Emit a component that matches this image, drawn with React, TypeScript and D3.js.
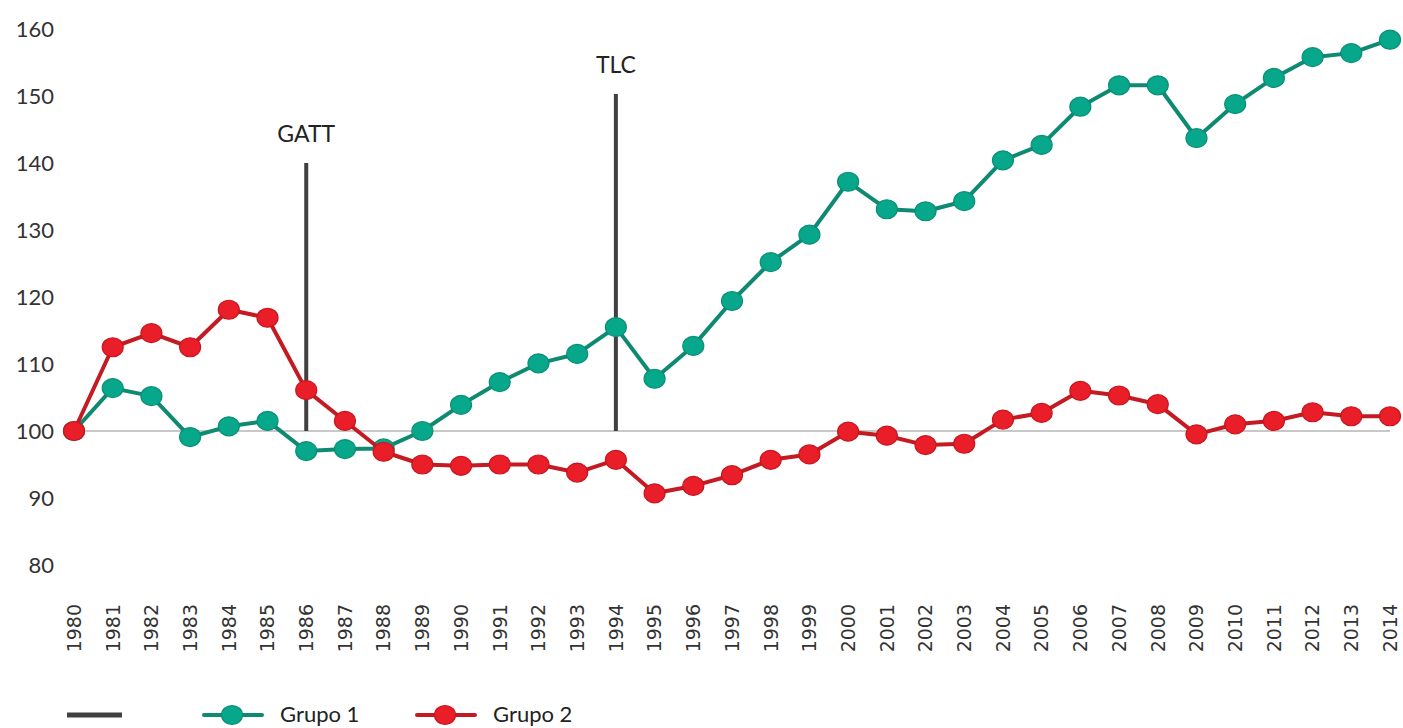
import React from 'react'
import * as d3 from 'd3'

const width = 1403
const height = 728

const years = d3.range(1980, 2015)
const grupo1 = [
  100, 106.4, 105.2, 99.1, 100.7, 101.5, 97.0, 97.3, 97.4, 100, 103.9, 107.3, 110.1, 111.5, 115.5,
  107.8, 112.7, 119.4, 125.2, 129.3, 137.2, 133.1, 132.8, 134.3, 140.4, 142.7, 148.4, 151.6, 151.6,
  143.7, 148.8, 152.7, 155.8, 156.4, 158.4,
]
const grupo2 = [
  100, 112.5, 114.6, 112.5, 118.1, 116.9, 106.1, 101.5, 96.9, 95.0, 94.8, 95.0, 95.0, 93.8, 95.7,
  90.7, 91.8, 93.4, 95.7, 96.5, 99.9, 99.3, 97.9, 98.1, 101.7, 102.7, 106.0, 105.3, 104.0, 99.5,
  101.0, 101.5, 102.8, 102.2, 102.2,
]
const yTicks = [80, 90, 100, 110, 120, 130, 140, 150, 160]
const events = [
  { year: 1986, label: 'GATT', top: 140 },
  { year: 1994, label: 'TLC', top: 150.3 },
]
const seriesInfo = [
  { name: 'Grupo 1', values: grupo1, line: '#0f8a72', fill: '#06a78a', edge: '#0b8f76' },
  { name: 'Grupo 2', values: grupo2, line: '#c41a22', fill: '#e91e28', edge: '#c8161e' },
]

const x = d3.scaleLinear().domain([1980, 2014]).range([74, 1390])
const y = d3.scaleLinear().domain([80, 160]).range([565, 29])

const font = 'Lato, "Open Sans", sans-serif'
const legendY = 715

export default function App() {
  const line = d3
    .line<number>()
    .x((_, i) => x(years[i]))
    .y((d) => y(d))

  return (
    <svg
      width={width}
      height={height}
      style={{ position: 'absolute', left: 0, top: 0, background: '#fff' }}
      fontFamily={font}
    >
      {/* y labels */}
      {yTicks.map((t) => (
        <text key={t} x={54} y={y(t)} dy="0.36em" textAnchor="end" fontSize={22} fill="#333">
          {t}
        </text>
      ))}

      {/* baseline at 100 */}
      <line x1={x(1980)} x2={x(2014)} y1={y(100)} y2={y(100)} stroke="#c8c8c8" strokeWidth={2} />

      {/* event markers */}
      {events.map((e) => (
        <g key={e.label}>
          <line x1={x(e.year)} x2={x(e.year)} y1={y(e.top)} y2={y(100)} stroke="#404040" strokeWidth={4} />
          <text x={x(e.year)} y={y(e.top) - 21} textAnchor="middle" fontSize={23} fill="#222">
            {e.label}
          </text>
        </g>
      ))}

      {/* series */}
      {seriesInfo.map((s) => (
        <g key={s.name}>
          <path d={line(s.values) ?? ''} fill="none" stroke={s.line} strokeWidth={4} strokeLinejoin="round" />
          {s.values.map((v, i) => (
            <ellipse
              key={i}
              cx={x(years[i])}
              cy={y(v)}
              rx={10.5}
              ry={9.5}
              fill={s.fill}
              stroke={s.edge}
              strokeWidth={1.2}
            />
          ))}
        </g>
      ))}

      {/* x labels */}
      {years.map((yr) => (
        <text
          key={yr}
          transform={`translate(${x(yr)},${604}) rotate(-90)`}
          dy="0.36em"
          textAnchor="end"
          fontSize={19}
          fontFamily='"DejaVu Sans", sans-serif'
          fill="#333"
        >
          {yr}
        </text>
      ))}

      {/* legend */}
      <g>
        <line x1={67} x2={122} y1={legendY} y2={legendY} stroke="#404040" strokeWidth={5} />
        {seriesInfo.map((s, i) => {
          const lx = 204 + i * 213
          return (
            <g key={s.name}>
              <line x1={lx} x2={lx + 58} y1={legendY} y2={legendY} stroke={s.line} strokeWidth={4} strokeLinecap="round" />
              <ellipse cx={lx + 28} cy={legendY} rx={10.5} ry={9.5} fill={s.fill} stroke={s.edge} strokeWidth={1.2} />
              <text x={lx + 76} y={legendY} dy="0.32em" fontSize={22} fill="#222">
                {s.name}
              </text>
            </g>
          )
        })}
      </g>
    </svg>
  )
}
